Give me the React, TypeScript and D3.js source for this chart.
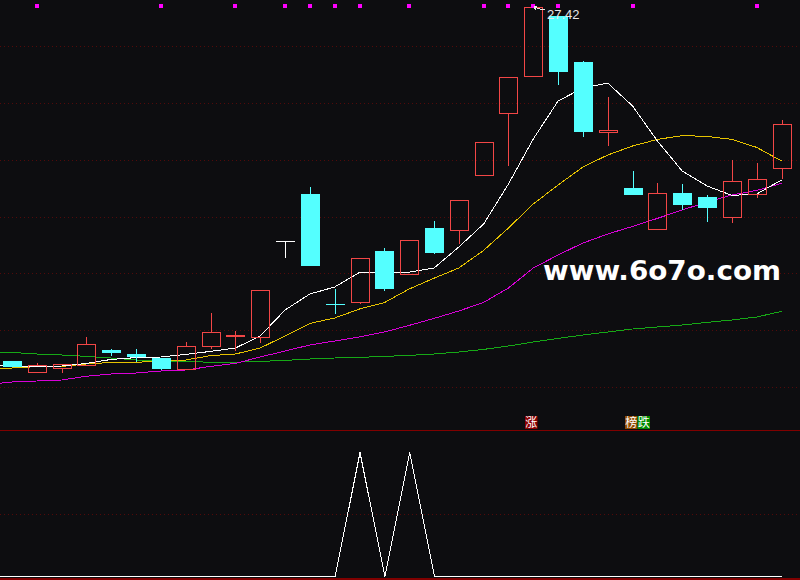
import React from 'react';
import * as d3 from 'd3';

// ---- data (prices) ----
const opens = [9.72, 9.19, 9.39, 9.52, 10.27, 10.06, 9.89, 9.31, 10.46, 10.95, 10.91, 15.72, 18.07, 12.56, 12.66, 15.22, 14.09, 16.37, 16.29, 19.01, 22.11, 23.99, 26.97, 24.67, 21.16, 18.37, 16.31, 18.12, 17.91, 16.91, 18.06, 19.36];
const closes = [9.41, 9.51, 9.56, 10.56, 10.14, 9.92, 9.34, 10.46, 11.16, 11.01, 13.26, 15.72, 14.49, 12.52, 14.86, 13.34, 15.77, 15.14, 17.77, 20.66, 23.91, 27.42, 24.19, 21.19, 21.27, 18.04, 18.11, 17.54, 17.39, 18.71, 18.81, 21.56];
const highs = [9.72, 9.62, 9.56, 10.91, 10.32, 10.32, 9.89, 10.67, 12.12, 11.22, 13.26, 15.72, 18.42, 13.32, 14.86, 15.37, 15.77, 16.72, 17.77, 20.66, 23.91, 27.42, 26.97, 24.72, 22.92, 19.22, 18.62, 18.57, 18.02, 19.77, 19.62, 21.77];
const lows = [9.41, 9.14, 9.14, 9.49, 9.99, 9.69, 9.29, 9.31, 10.31, 10.24, 10.61, 14.89, 14.49, 12.06, 12.59, 13.24, 14.09, 15.09, 15.59, 19.01, 19.49, 23.99, 23.54, 20.94, 20.49, 18.04, 16.31, 17.27, 16.69, 16.64, 17.89, 18.84];

// moving averages: first value belongs to the bar just before the visible window
const ma5 = [9.50, 9.47, 9.42, 9.47, 9.60, 9.80, 9.89, 9.92, 10.05, 10.20, 10.37, 10.97, 12.27, 13.07, 13.42, 14.15, 14.16, 14.16, 14.37, 15.42, 16.57, 18.57, 20.82, 22.72, 23.37, 23.62, 22.47, 20.72, 19.22, 18.47, 18.00, 18.07, 18.77];
const ma10 = [9.27, 9.37, 9.44, 9.45, 9.57, 9.65, 9.66, 9.70, 9.77, 9.99, 10.07, 10.37, 10.97, 11.60, 11.87, 12.32, 12.64, 13.32, 13.86, 14.37, 15.25, 16.37, 17.57, 18.52, 19.42, 20.02, 20.47, 20.80, 20.99, 20.95, 20.80, 20.40, 19.72];
const ma20 = [8.55, 8.67, 8.72, 8.77, 8.96, 9.07, 9.12, 9.22, 9.27, 9.45, 9.60, 9.92, 10.22, 10.52, 10.72, 10.92, 11.17, 11.50, 11.85, 12.22, 12.65, 13.37, 14.37, 15.02, 15.62, 16.07, 16.45, 16.85, 17.27, 17.67, 18.02, 18.25, 18.60];
const ma60 = [10.17, 10.15, 10.07, 10.02, 9.95, 9.87, 9.77, 9.71, 9.69, 9.66, 9.66, 9.70, 9.75, 9.82, 9.87, 9.90, 9.95, 10.00, 10.07, 10.17, 10.30, 10.47, 10.67, 10.85, 11.02, 11.17, 11.32, 11.42, 11.52, 11.65, 11.77, 11.92, 12.20];

// top signal markers (1 = marker on that bar)
const signalTop = [0, 1, 0, 0, 0, 0, 1, 0, 0, 1, 0, 1, 1, 1, 1, 0, 1, 0, 0, 1, 1, 1, 1, 0, 0, 1, 0, 0, 0, 0, 1, 0];

// sub-panel indicator (first value = bar before window)
const indicator = [0, 0, 0, 0, 0, 0, 0, 0, 0, 0, 0, 0, 0, 0, 0, 1, 0, 1, 0, 0, 0, 0, 0, 0, 0, 0, 0, 0, 0, 0, 0, 0, 0];

const gridValues = [8.42, 11.26, 14.10, 16.94, 19.78, 22.62, 25.46];
const subGridValues = [0.5];

const tagBars = [21, 25, 25];
const tagTexts = ['涨', '榜', '跌'];

const watermark = 'www.6o7o.com';

// ---- styles ----
const BG = '#0d0d10';
const RED = '#f24646';
const CYAN = '#54ffff';
const GRID = '#520a0a';
const tagFill: Record<string, string> = { '涨': '#8a0000', '榜': '#8f4a00', '跌': '#008a00' };

export default function App() {
  const N = closes.length;
  const x = d3.scaleLinear().domain([0, N - 1]).range([12, 781.5]);
  const y = d3.scaleLinear().domain([8.42, 27.42]).range([387, 7]);
  const ySub = d3.scaleLinear().domain([0, 1]).range([576, 452]);
  const col = (i: number) => Math.round(x(i));

  const maLine = d3.line<number>().x((_, i) => x(i - 1)).y(d => y(d));
  const subLine = d3.line<number>().x((_, i) => x(i - 1) + 0.5).y(d => ySub(d) + 0.5);

  const candles = closes.map((c, i) => {
    const o = opens[i];
    const cx = col(i);
    const top = Math.round(y(Math.max(o, c)));
    const bot = Math.round(y(Math.min(o, c)));
    const yh = Math.round(y(highs[i]));
    const yl = Math.round(y(lows[i]));
    if (c > o) {
      return (
        <g key={i} stroke={RED} fill="none" shapeRendering="crispEdges">
          <rect x={cx - 8.5} y={top + 0.5} width={18} height={Math.max(bot - top, 1)} />
          {yh < top && <line x1={cx + 0.5} x2={cx + 0.5} y1={yh} y2={top} />}
          {yl > bot && <line x1={cx + 0.5} x2={cx + 0.5} y1={bot + 1} y2={yl} />}
        </g>
      );
    }
    if (c < o) {
      return (
        <g key={i} shapeRendering="crispEdges">
          <line x1={cx + 0.5} x2={cx + 0.5} y1={yh} y2={yl} stroke={CYAN} />
          <rect x={cx - 9} y={top} width={19} height={Math.max(bot - top, 1)} fill={CYAN} />
        </g>
      );
    }
    return (
      <g key={i} stroke="#ffffff" shapeRendering="crispEdges">
        <line x1={cx - 9} x2={cx + 10} y1={top + 0.5} y2={top + 0.5} />
        <line x1={cx + 0.5} x2={cx + 0.5} y1={yh} y2={yl} />
      </g>
    );
  });

  const iMax = d3.maxIndex(highs);
  const tipX = col(iMax) + 1;
  const tipY = Math.round(y(highs[iMax])) - 1;

  return (
    <>
      <style>{`body{margin:0;background:${BG};}`}</style>
      <svg width={800} height={580} style={{ display: 'block', background: BG }}>
        <rect x={0} y={0} width={800} height={580} fill={BG} />
        {/* grid */}
        {gridValues.map((v, k) => (
          <line key={'g' + k} x1={0} x2={800} y1={Math.round(y(v)) + 0.5} y2={Math.round(y(v)) + 0.5}
            stroke={GRID} strokeDasharray="1 3" shapeRendering="crispEdges" />
        ))}
        {subGridValues.map((v, k) => (
          <line key={'s' + k} x1={0} x2={800} y1={Math.round(ySub(v)) + 0.5} y2={Math.round(ySub(v)) + 0.5}
            stroke={GRID} strokeDasharray="1 3" shapeRendering="crispEdges" />
        ))}
        <line x1={0} x2={800} y1={430.5} y2={430.5} stroke="#800000" shapeRendering="crispEdges" />
        <line x1={0} x2={800} y1={578.5} y2={578.5} stroke="#800000" strokeWidth={2} shapeRendering="crispEdges" />

        {/* watermark */}
        <text x={543} y={280} fill="#ffffff" fontFamily="DejaVu Sans" fontWeight="bold" fontSize={27}
          textLength={238} lengthAdjust="spacingAndGlyphs">{watermark}</text>

        {/* moving averages */}
        <path d={maLine(ma60) || ''} fill="none" stroke="#16a816" strokeWidth={1} shapeRendering="crispEdges" />
        <path d={maLine(ma20) || ''} fill="none" stroke="#d800d8" strokeWidth={1} shapeRendering="crispEdges" />
        <path d={maLine(ma10) || ''} fill="none" stroke="#e6c200" strokeWidth={1} shapeRendering="crispEdges" />
        <path d={maLine(ma5) || ''} fill="none" stroke="#ffffff" strokeWidth={1} shapeRendering="crispEdges" />

        {candles}

        {/* top signals */}
        {signalTop.map((s, i) => s ? (
          <rect key={'m' + i} x={col(i) - 2} y={4} width={4} height={4} fill="#ff00ff" />
        ) : null)}

        {/* max annotation */}
        <g stroke="#e8e8e8" fill="none" shapeRendering="crispEdges">
          <path d={`M${tipX + 3},${tipY} L${tipX},${tipY + 1} L${tipX + 2},${tipY + 4}`} />
          <path d={`M${tipX},${tipY + 1} L${tipX + 6},${tipY + 3} L${tipX + 11},${tipY + 4}`} />
        </g>
        <text x={tipX + 13} y={tipY + 13} fill="#e8e8e8" fontFamily="Liberation Sans" fontSize={13}>
          {d3.format('.2f')(highs[iMax])}
        </text>

        {/* tags */}
        {tagTexts.map((t, k) => {
          const prevSame = tagBars.slice(0, k).filter(b => b === tagBars[k]).length;
          const left = col(tagBars[k]) - 8 + prevSame * 12.5;
          return (
            <g key={'t' + k}>
              <rect x={left} y={416} width={12.5} height={13} fill={tagFill[t]} />
              <text x={left + 6.25} y={427} textAnchor="middle" fill="#ffffff" fontSize={12}
                fontFamily="Noto Sans CJK SC">{t}</text>
            </g>
          );
        })}

        {/* sub indicator */}
        <path d={subLine(indicator) || ''} fill="none" stroke="#ffffff" strokeWidth={1} shapeRendering="crispEdges" />
      </svg>
    </>
  );
}
